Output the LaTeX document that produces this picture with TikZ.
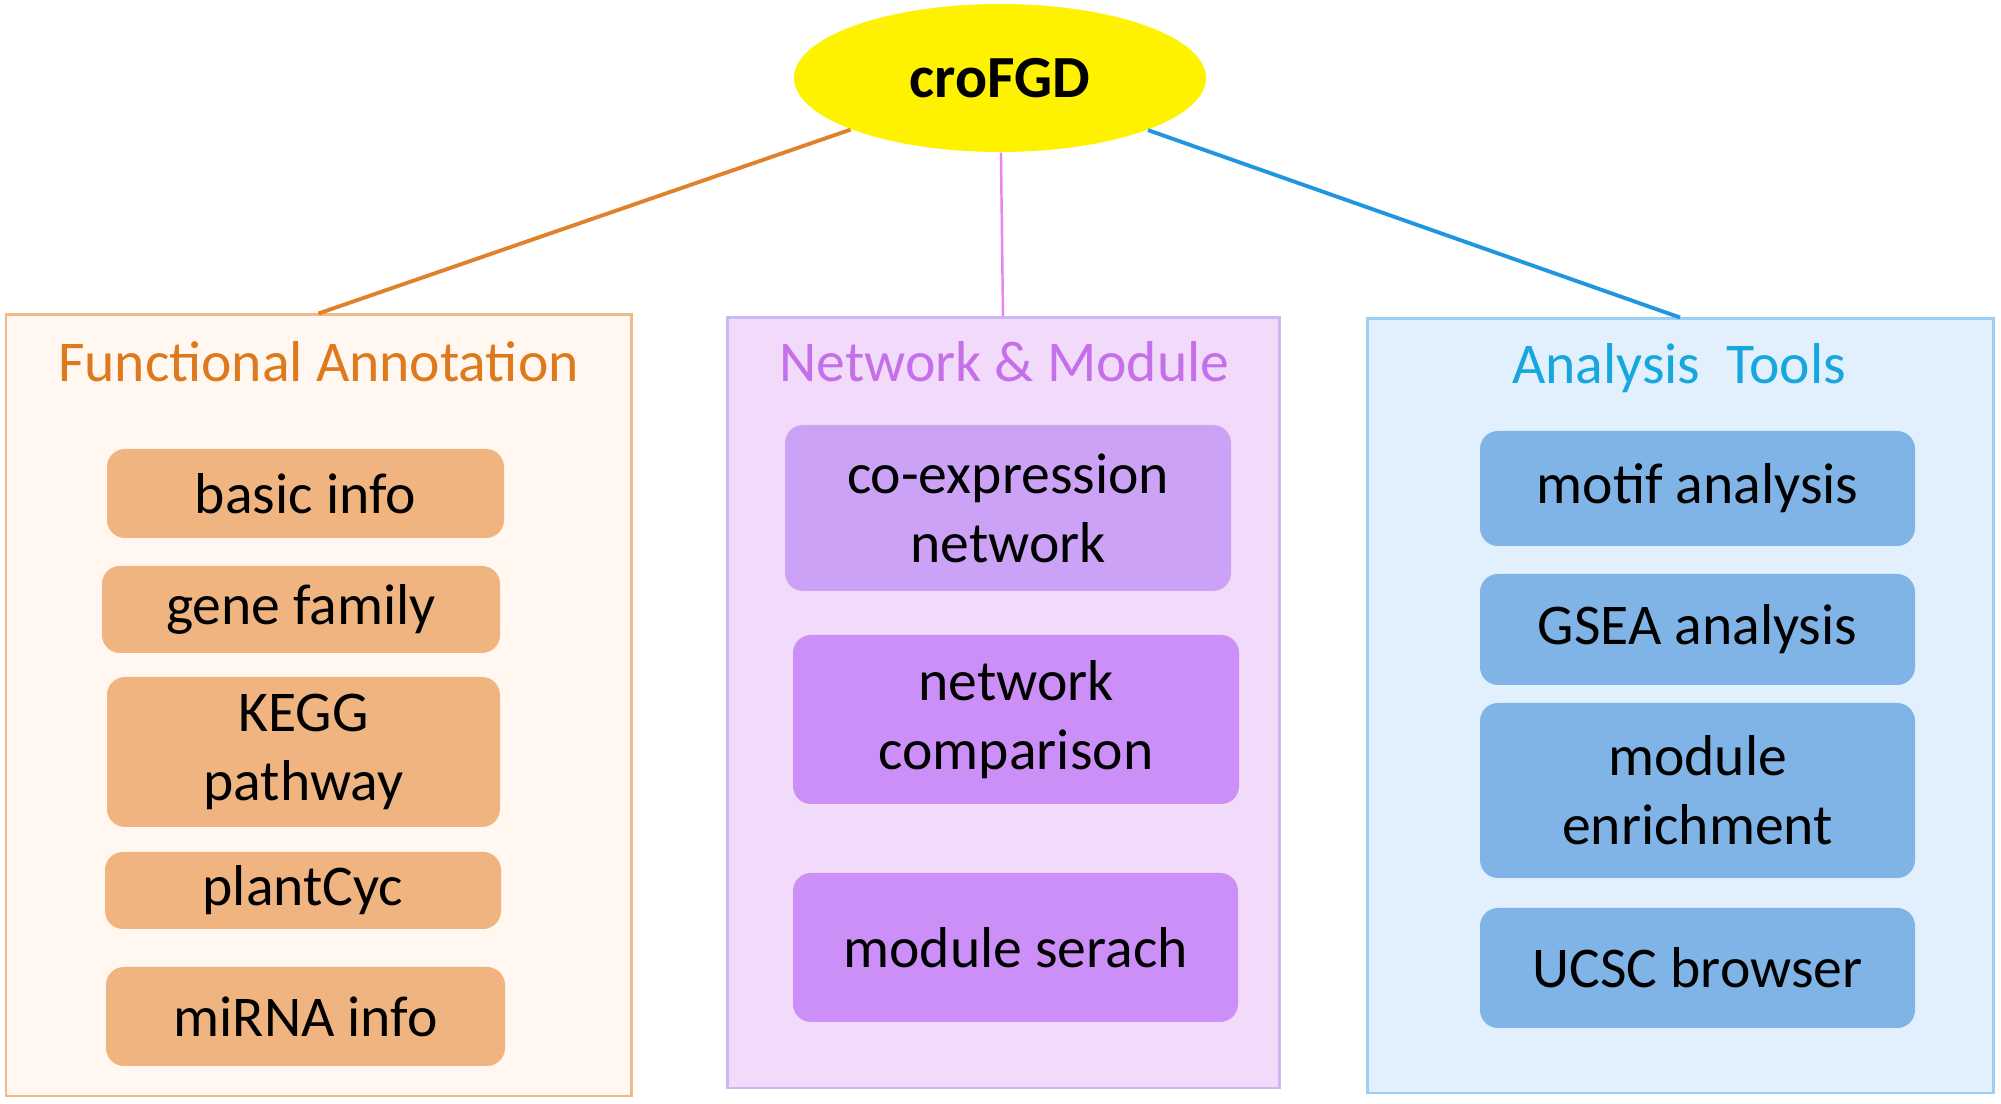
\documentclass[tikz,border=0pt]{standalone}
\usepackage{fontspec}
\setmainfont{Carlito}
\usetikzlibrary{shapes.geometric}
\definecolor{faline}{HTML}{E0822A}
\definecolor{nmline}{HTML}{EE82EE}
\definecolor{atline}{HTML}{2196E0}
\definecolor{fatext}{HTML}{DE7A1E}
\definecolor{nmtext}{HTML}{C470E8}
\definecolor{attext}{HTML}{17A6DE}
\definecolor{fafill}{HTML}{FFF7F0}
\definecolor{nmfill}{HTML}{F2DAFB}
\definecolor{atfill}{HTML}{E1F0FC}
\definecolor{faitem}{HTML}{F0B480}
\definecolor{nmitem}{HTML}{CC8FF7}
\definecolor{nmitemlight}{HTML}{CBA2F5}
\definecolor{atitem}{HTML}{80B3E6}
\def\txt{\fontsize{16.4}{19.6}\selectfont}
\tikzset{
	panel/.style={draw, line width=0.85pt, minimum width=#1, inner sep=0pt},
	title/.style={anchor=base, font=\txt},
	item/.style={fill=#1, rounded corners=0.18cm, align=center, font=\txt, inner sep=0pt},
	link/.style={line width=1.1pt}
}

\begin{document}
\begin{tikzpicture}
				\useasboundingbox (0,0) rectangle (20.01,11.03);
				
				\node[ellipse, fill=yellow, minimum width=4.12cm, minimum height=1.48cm, inner sep=0pt, font=\fontsize{17}{20}\selectfont\bfseries] (root) at (10.00,10.25) {croFGD};
				
				% three panels
				\node[panel=6.25cm, draw=faline!55, fill=fafill, minimum height=7.81cm] (fa) at (3.185,3.975) {};
				\node[panel=5.52cm, draw=atline!35!nmline!60, fill=nmfill, minimum height=7.70cm] (nm) at (10.03,4.00) {};
				\node[panel=6.26cm, draw=atline!45, fill=atfill, minimum height=7.74cm] (at) at (16.80,3.97) {};
				
				\draw[link, faline] (root) -- (fa.north);
				\draw[link, nmline, line width=0.7pt] (root) -- (nm.north);
				\draw[link, atline] (root) -- (at.north);
				
				\node[title, text=fatext] (fatitle) at (3.185,7.21) {Functional Annotation};
				\node[title, text=nmtext] (nmtitle) at (10.045,7.21) {Network \& Module};
				\node[title, text=attext] (attitle) at (16.79,7.19) {Analysis\ \ Tools};
				
				% Functional Annotation
				\node[item=faitem, minimum width=3.97cm, minimum height=0.89cm] (basic) at (3.055,6.095) {basic info};
				\node[item=faitem, minimum width=3.98cm, minimum height=0.87cm] (family) at (3.01,4.935) {gene family};
				\node[item=faitem, minimum width=3.93cm, minimum height=1.50cm] (kegg) at (3.035,3.51) {KEGG\\pathway};
				\node[item=faitem, minimum width=3.96cm, minimum height=0.77cm] (cyc) at (3.03,2.125) {plantCyc};
				\node[item=faitem, minimum width=3.99cm, minimum height=0.99cm] (mirna) at (3.055,0.865) {miRNA info};
				
				% Network & Module
				\node[item=nmitemlight, minimum width=4.46cm, minimum height=1.66cm] (coexp) at (10.08,5.95) {co-expression\\network};
				\node[item=nmitem, minimum width=4.46cm, minimum height=1.69cm] (comp) at (10.16,3.835) {network\\comparison};
				\node[item=nmitem, minimum width=4.45cm, minimum height=1.49cm] (search) at (10.155,1.555) {module serach};
				
				% Analysis Tools
				\node[item=atitem, minimum width=4.35cm, minimum height=1.15cm] (motif) at (16.975,6.145) {motif analysis};
				\node[item=atitem, minimum width=4.35cm, minimum height=1.11cm] (gsea) at (16.975,4.735) {GSEA analysis};
				\node[item=atitem, minimum width=4.35cm, minimum height=1.75cm] (enrich) at (16.975,3.125) {module\\enrichment};
				\node[item=atitem, minimum width=4.35cm, minimum height=1.20cm] (ucsc) at (16.975,1.35) {UCSC browser};
			\end{tikzpicture}
\end{document}
